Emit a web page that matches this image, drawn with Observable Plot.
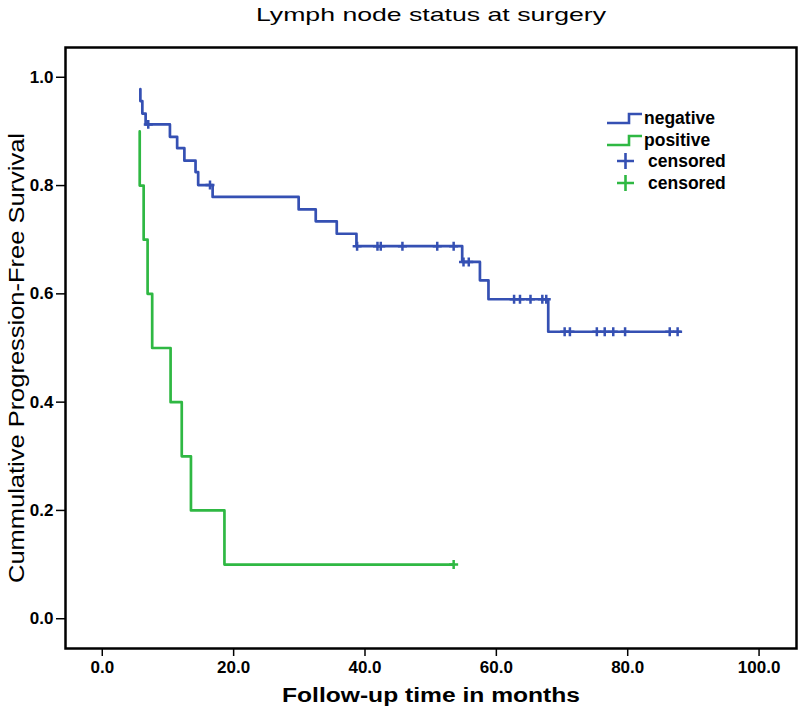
<!DOCTYPE html>
<html>
<head>
<meta charset="utf-8">
<script src="https://cdn.jsdelivr.net/npm/d3@7"></script>
<script src="https://cdn.jsdelivr.net/npm/@observablehq/plot@0.6"></script>
<style>
  html, body { margin: 0; padding: 0; background: #fff; }
  #chart { width: 800px; height: 713px; }
</style>
</head>
<body>
<div id="chart"></div>
<script>
// ---- Data ----
const titleText = "Lymph node status at surgery";
const xLabel = "Follow-up time in months";
const yLabel = "Cummulative Progression-Free Survival";
const xTicks = [0, 20, 40, 60, 80, 100];
const yTicks = [0, 0.2, 0.4, 0.6, 0.8, 1.0];

const groups = ["negative", "positive"];
const groupColors = ["#3550b3", "#2fb843"];

// negative group: step points (time, survival after step)
const negTime = [5.8, 5.8, 6.1, 6.6, 10.3, 11.4, 12.5, 14.2, 14.6, 16.8, 29.9, 32.5, 35.7, 38.7, 54.8, 57.5, 58.8, 67.9, 88.0];
const negSurv = [0.978, 0.956, 0.933, 0.913, 0.890, 0.869, 0.846, 0.825, 0.801, 0.779, 0.756, 0.734, 0.711, 0.688, 0.659, 0.625, 0.590, 0.530, 0.530];
const negCensTime = [7.0, 16.4, 38.8, 41.9, 42.4, 45.7, 51.0, 53.5, 55.0, 55.8, 62.7, 63.6, 65.2, 67.0, 67.6, 70.4, 71.2, 75.3, 76.5, 77.8, 79.6, 86.4, 87.6];
const negCensSurv = [0.913, 0.801, 0.688, 0.688, 0.688, 0.688, 0.688, 0.688, 0.659, 0.659, 0.590, 0.590, 0.590, 0.590, 0.590, 0.530, 0.530, 0.530, 0.530, 0.530, 0.530, 0.530, 0.530];

// positive group
const posTime = [5.7, 5.7, 6.3, 6.9, 7.6, 10.4, 12.1, 13.5, 18.6, 53.5];
const posSurv = [0.9, 0.8, 0.7, 0.6, 0.5, 0.4, 0.3, 0.2, 0.1, 0.1];
const posCensTime = [53.5];
const posCensSurv = [0.1];

// ---- Build tables ----
const steps = [
  ...negTime.map((t, i) => ({group: "negative", t, s: negSurv[i]})),
  ...posTime.map((t, i) => ({group: "positive", t, s: posSurv[i]}))
];
const censored = [
  ...negCensTime.map((t, i) => ({group: "negative", t, s: negCensSurv[i]})),
  ...posCensTime.map((t, i) => ({group: "positive", t, s: posCensSurv[i]}))
];

const font = "'Liberation Sans', Arial, Helvetica, sans-serif";
const fmt = d => d.toFixed(1);

const chart = Plot.plot({
  width: 800,
  height: 713,
  marginTop: 47,
  marginBottom: 65,
  marginLeft: 65,
  marginRight: 4,
  style: {fontFamily: font, background: "#fff", color: "#000"},
  x: {domain: [-5.6, 105.7]},
  y: {domain: [-0.055, 1.055]},
  color: {domain: groups, range: groupColors},
  marks: [
    Plot.frame({stroke: "#000", strokeWidth: 2.5}),
    Plot.axisX({ticks: xTicks, tickFormat: fmt, tickSize: 8, tickPadding: 4, fontSize: 17, fontWeight: "bold", strokeWidth: 1.5, label: null}),
    Plot.axisY({ticks: yTicks, tickFormat: fmt, tickSize: 9, tickPadding: 3, fontSize: 17, fontWeight: "bold", strokeWidth: 1.5, label: null}),
    Plot.line(steps, {x: "t", y: "s", z: "group", stroke: "group", curve: "step-after", strokeWidth: 2.7}),
    Plot.dot(censored, {x: "t", y: "s", stroke: "group", symbol: "plus", r: 3, strokeWidth: 2.5}),
    Plot.text([titleText], {frameAnchor: "top", lineAnchor: "middle", dy: -33, fontSize: 19}),
    Plot.text([xLabel], {frameAnchor: "bottom", lineAnchor: "middle", dy: 47, fontSize: 20, fontWeight: "bold"}),
    Plot.text([yLabel], {frameAnchor: "left", textAnchor: "middle", lineAnchor: "middle", dx: -49, dy: 10, rotate: -90, fontSize: 22})
  ]
});

document.getElementById("chart").appendChild(chart);

// stretch texts horizontally like the reference
function stretch(str, len) {
  for (const t of chart.querySelectorAll("text")) {
    if (t.textContent === str) {
      t.setAttribute("textLength", len);
      t.setAttribute("lengthAdjust", "spacingAndGlyphs");
    }
  }
}
stretch(titleText, 350);
stretch(xLabel, 298);
stretch(yLabel, 450);

// ---- Legend (inside the frame, top right) ----
const svg = d3.select(chart);
const lg = svg.append("g")
  .attr("font-family", font).attr("font-size", 17.5).attr("font-weight", "bold")
  .attr("text-anchor", "start").attr("fill", "#000");
const legendRows = [
  {type: "line", color: groupColors[0], text: groups[0]},
  {type: "line", color: groupColors[1], text: groups[1]},
  {type: "plus", color: groupColors[0], text: "censored"},
  {type: "plus", color: groupColors[1], text: "censored"}
];
const rowY = [118, 140, 161, 183];
legendRows.forEach((r, i) => {
  const y = rowY[i];
  if (r.type === "line") {
    lg.append("path").attr("d", `M607,${y + 5}H629V${y - 4}H642`).attr("fill", "none")
      .attr("stroke", r.color).attr("stroke-width", 2.6);
    lg.append("text").attr("x", 644).attr("y", y).attr("dy", "0.35em").text(r.text);
  } else {
    lg.append("path").attr("d", `M617,${y}H634M625.5,${y - 8}V${y + 8}`).attr("fill", "none")
      .attr("stroke", r.color).attr("stroke-width", 2.6);
    lg.append("text").attr("x", 648).attr("y", y).attr("dy", "0.35em").text(r.text);
  }
});
</script>
</body>
</html>
